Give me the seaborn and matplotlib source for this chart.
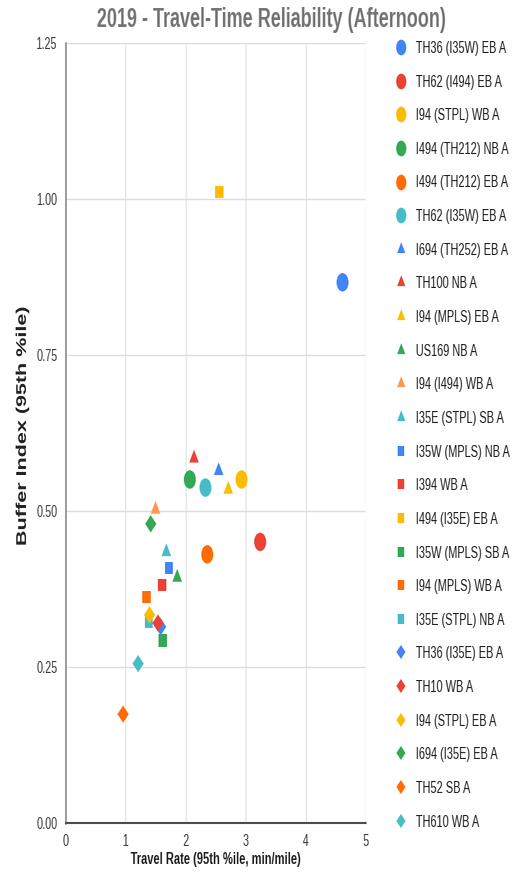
import io

import matplotlib
matplotlib.use("Agg")
import matplotlib.pyplot as plt
from matplotlib.lines import Line2D
from matplotlib.path import Path
import pandas as pd
import seaborn as sns
from PIL import Image

# ---- data -----------------------------------------------------------------
routes = [
    "TH36 (I35W) EB A", "TH62 (I494) EB A", "I94 (STPL) WB A",
    "I494 (TH212) NB A", "I494 (TH212) EB A", "TH62 (I35W) EB A",
    "I694 (TH252) EB A", "TH100 NB A", "I94 (MPLS) EB A",
    "US169 NB A", "I94 (I494) WB A", "I35E (STPL) SB A",
    "I35W (MPLS) NB A", "I394 WB A", "I494 (I35E) EB A",
    "I35W (MPLS) SB A", "I94 (MPLS) WB A", "I35E (STPL) NB A",
    "TH36 (I35E) EB A", "TH10 WB A", "I94 (STPL) EB A",
    "I694 (I35E) EB A", "TH52 SB A", "TH610 WB A",
]
travel_rate = [
    4.61, 3.24, 2.93, 2.07, 2.36, 2.33,
    2.55, 2.14, 2.71, 1.86, 1.50, 1.68,
    1.72, 1.61, 2.56, 1.62, 1.35, 1.39,
    1.585, 1.54, 1.40, 1.42, 0.96, 1.21,
]
buffer_index = [
    0.866, 0.450, 0.550, 0.550, 0.430, 0.537,
    0.564, 0.584, 0.534, 0.393, 0.502, 0.434,
    0.408, 0.381, 1.011, 0.292, 0.362, 0.322,
    0.314, 0.320, 0.333, 0.479, 0.174, 0.255,
]
route_shapes = [
    "circle", "circle", "circle", "circle", "circle", "circle",
    "triangle", "triangle", "triangle", "triangle", "triangle", "triangle",
    "square", "square", "square", "square", "square", "square",
    "diamond", "diamond", "diamond", "diamond", "diamond", "diamond",
]
route_colors = [
    "#4285F4", "#EA4335", "#FBBC04", "#34A853", "#FF6D01", "#46BDC6",
    "#4285F4", "#EA4335", "#FBBC04", "#34A853", "#FF994D", "#46BDC6",
    "#4285F4", "#EA4335", "#FBBC04", "#34A853", "#FF6D01", "#46BDC6",
    "#4285F4", "#EA4335", "#FBBC04", "#34A853", "#FF6D01", "#46BDC6",
]
x_ticks = [0, 1, 2, 3, 4, 5]
y_ticks = [0.00, 0.25, 0.50, 0.75, 1.00, 1.25]

df = pd.DataFrame({
    "route": routes,
    "travel_rate": travel_rate,
    "buffer_index": buffer_index,
    "shape": route_shapes,
})
palette = dict(zip(routes, route_colors))

# ---- marker styles ----------------------------------------------------------
triangle = Path([(-0.5, -0.2887), (0.5, -0.2887), (0.0, 0.5774), (-0.5, -0.2887)],
                [Path.MOVETO, Path.LINETO, Path.LINETO, Path.CLOSEPOLY])
shape_marker = {"circle": "o", "triangle": triangle, "square": "s", "diamond": "D"}
shape_size = {"circle": 13.3, "triangle": 12.3, "square": 8.8, "diamond": 8.8}  # points

# ---- figure ---------------------------------------------------------------
sns.set_theme(style="white")
plt.rcParams["font.family"] = ["Liberation Sans", "DejaVu Sans"]

W_PX, H_PX, OUT_W = 791, 880, 514
fig = plt.figure(figsize=(W_PX / 100, H_PX / 100), dpi=100)
fig.patch.set_facecolor("white")
ax = fig.add_axes([0.1272, 0.0651, 0.5848, 0.8864])

for shape in ["circle", "triangle", "square", "diamond"]:
    sub = df[df["shape"] == shape]
    sns.scatterplot(
        data=sub, x="travel_rate", y="buffer_index", hue="route",
        palette={r: palette[r] for r in sub["route"]},
        marker=shape_marker[shape], s=shape_size[shape] ** 2,
        linewidth=0, edgecolor="none", legend=False, ax=ax, zorder=3,
    )

ax.set_xlim(0, 5)
ax.set_ylim(0, 1.25)
ax.set_xticks(x_ticks)
ax.set_xticklabels([str(t) for t in x_ticks])
ax.set_yticks(y_ticks)
ax.set_yticklabels([f"{t:.2f}" for t in y_ticks])
ax.tick_params(axis="both", length=0, labelsize=11.8, colors="#3c3c3c")
ax.tick_params(axis="y", pad=9)
ax.tick_params(axis="x", pad=8)

ax.grid(True, color="#dcdcdc", linewidth=1.0, zorder=0)
ax.set_axisbelow(True)
for side in ["top", "right"]:
    ax.spines[side].set_visible(False)
ax.spines["left"].set_color("#8a8a8a")
ax.spines["left"].set_linewidth(1.8)
ax.spines["bottom"].set_color("#4d4d4d")
ax.spines["bottom"].set_linewidth(1.5)
ax.spines["left"].set_zorder(4)
ax.spines["bottom"].set_zorder(4)

ax.set_xlabel("Travel Rate (95th %ile, min/mile)", fontsize=12.3,
              fontweight="bold", color="#222222", labelpad=2)
ax.set_ylabel("Buffer Index (95th %ile)", fontsize=15.5,
              fontweight="bold", color="#222222")
ax.yaxis.set_label_coords(-0.118, 0.51)

fig.text(0.5285, 0.969, "2019 - Travel-Time Reliability (Afternoon)",
         ha="center", va="baseline", fontsize=20.0, fontweight="bold",
         color="#757575")

handles = [
    Line2D([], [], linestyle="none", marker=shape_marker[s], color=c,
           markersize=shape_size[s] * 0.85, markeredgewidth=0)
    for s, c in zip(route_shapes, route_colors)
]
fig.legend(handles, routes, loc="upper left", bbox_to_anchor=(0.769, 0.9535),
           frameon=False, fontsize=12.2, labelcolor="#222222",
           handlelength=1.0, handletextpad=0.86, labelspacing=1.1,
           borderpad=0, borderaxespad=0)

# render, then compress horizontally to the final canvas width
buf = io.BytesIO()
fig.savefig(buf, format="png", dpi=100, facecolor="white")
buf.seek(0)
img = Image.open(buf).convert("RGB")
img.resize((OUT_W, H_PX), Image.LANCZOS).save("out.png")
